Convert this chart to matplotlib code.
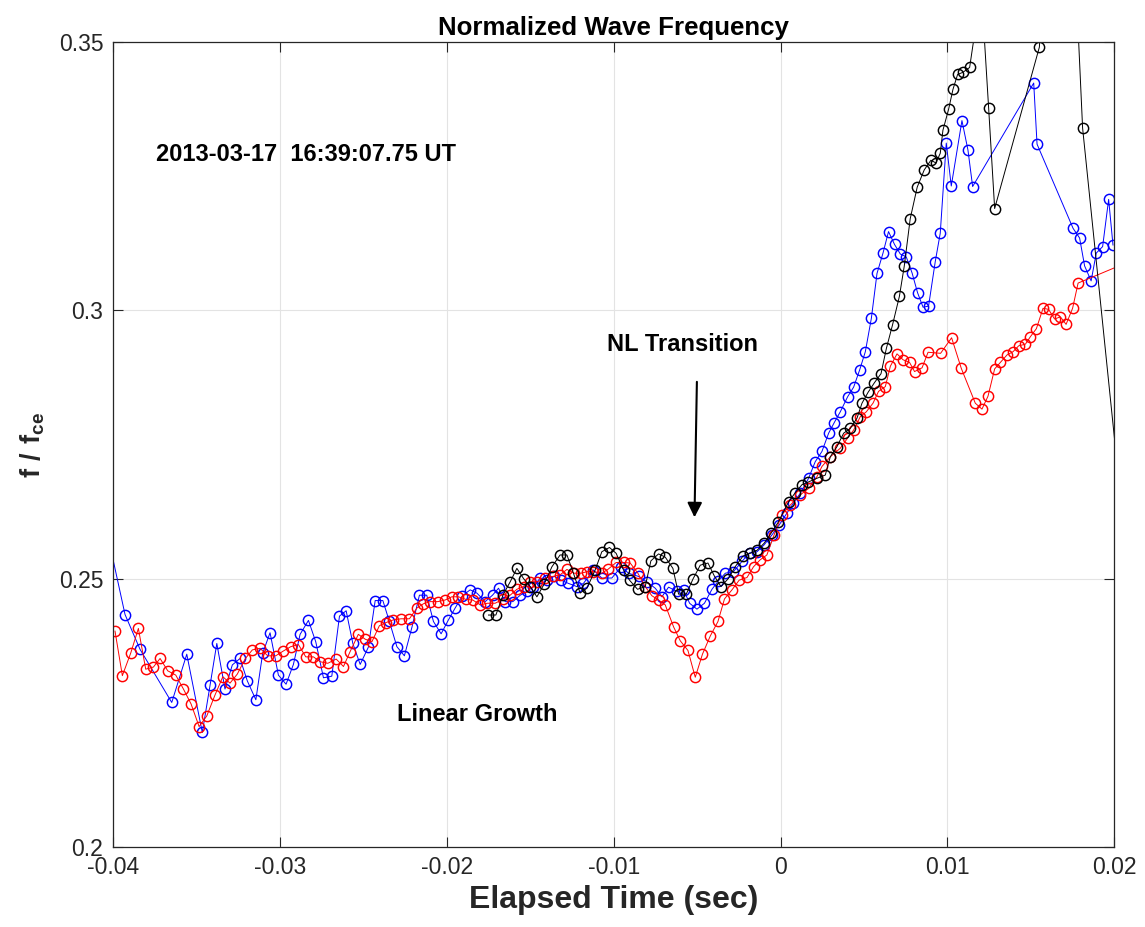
import matplotlib
matplotlib.use("Agg")

import numpy as np
import matplotlib.pyplot as plt

plt.rcParams["font.family"] = ["Liberation Sans", "DejaVu Sans"]
plt.rcParams["mathtext.fontset"] = "custom"
plt.rcParams["mathtext.rm"] = "Liberation Sans"
plt.rcParams["mathtext.bf"] = "Liberation Sans:bold"

# elapsed time in ms, normalized frequency f/fce
red_t = [-39.88, -39.44, -38.94, -38.48, -38.04, -37.58, -37.18, -36.72, -36.24, -35.78,
         -35.32, -34.84, -34.38, -33.90, -33.42, -32.99, -32.55, -32.07, -31.65, -31.19,
         -30.73, -30.25, -29.79, -29.35, -28.89, -28.45, -27.99, -27.59, -27.13, -26.63,
         -26.19, -25.79, -25.30, -24.89, -24.49, -24.04, -23.64, -23.20, -22.74, -22.24,
         -21.79, -21.40, -21.00, -20.54, -20.10, -19.70, -19.30, -18.84, -18.44, -18.00,
         -17.56, -17.10, -16.66, -16.20, -15.80, -15.40, -15.00, -14.57, -14.10, -13.64,
         -13.21, -12.80, -12.37, -11.96, -11.57, -11.21, -10.71, -10.35, -9.85, -9.41,
         -9.01, -8.55, -8.11, -7.71, -7.31, -6.91, -6.41, -6.01, -5.55, -5.11,
         -4.68, -4.21, -3.75, -3.36, -2.91, -2.48, -2.01, -1.62, -1.22, -0.82,
         -0.38, 0.08, 0.58, 1.18, 1.68, 2.18, 2.48, 2.98, 3.58, 4.02,
         4.38, 4.78, 5.14, 5.54, 5.87, 6.28, 6.58, 6.98, 7.34, 7.73,
         8.03, 8.48, 8.84, 9.59, 10.25, 10.83, 11.67, 12.07, 12.43, 12.83,
         13.17, 13.57, 13.93, 14.27, 14.67, 14.97, 15.33, 15.73, 16.06, 16.42,
         16.77, 17.11, 17.50, 17.83, 21.20]
red_f = [0.2402, 0.2319, 0.2361, 0.2407, 0.2331, 0.2335, 0.2351, 0.2328, 0.2320, 0.2294,
         0.2266, 0.2224, 0.2244, 0.2282, 0.2317, 0.2305, 0.2322, 0.2351, 0.2367, 0.2370,
         0.2356, 0.2356, 0.2365, 0.2373, 0.2377, 0.2354, 0.2354, 0.2345, 0.2342, 0.2350,
         0.2336, 0.2364, 0.2396, 0.2387, 0.2382, 0.2412, 0.2418, 0.2423, 0.2425, 0.2425,
         0.2445, 0.2453, 0.2457, 0.2457, 0.2460, 0.2466, 0.2466, 0.2461, 0.2460, 0.2451,
         0.2454, 0.2454, 0.2461, 0.2469, 0.2480, 0.2485, 0.2494, 0.2494, 0.2501, 0.2504,
         0.2507, 0.2517, 0.2510, 0.2510, 0.2513, 0.2513, 0.2510, 0.2517, 0.2530, 0.2530,
         0.2529, 0.2510, 0.2485, 0.2468, 0.2460, 0.2451, 0.2410, 0.2384, 0.2366, 0.2316,
         0.2359, 0.2393, 0.2420, 0.2462, 0.2479, 0.2497, 0.2502, 0.2522, 0.2535, 0.2544,
         0.2582, 0.2619, 0.2637, 0.2656, 0.2668, 0.2690, 0.2709, 0.2727, 0.2743, 0.2762,
         0.2777, 0.2802, 0.2811, 0.2827, 0.2849, 0.2858, 0.2896, 0.2919, 0.2908, 0.2903,
         0.2886, 0.2893, 0.2922, 0.2920, 0.2949, 0.2892, 0.2827, 0.2816, 0.2840, 0.2891,
         0.2903, 0.2917, 0.2923, 0.2934, 0.2937, 0.2951, 0.2966, 0.3004, 0.3002, 0.2984,
         0.2988, 0.2974, 0.3004, 0.3051, 0.3095]

blue_t = [-40.45, -39.28, -38.38, -36.48, -35.58, -34.65, -34.18, -33.78, -33.29, -32.85,
          -32.39, -31.95, -31.44, -31.03, -30.59, -30.09, -29.63, -29.19, -28.79, -28.29,
          -27.85, -27.39, -26.89, -26.43, -26.03, -25.63, -25.19, -24.70, -24.29, -23.83,
          -23.44, -22.99, -22.54, -22.09, -21.64, -21.20, -20.80, -20.34, -19.90, -19.50,
          -19.06, -18.60, -18.20, -17.70, -17.26, -16.90, -16.50, -16.04, -15.60, -15.20,
          -14.81, -14.40, -14.00, -13.56, -13.15, -12.71, -12.20, -11.81, -11.21, -10.71,
          -10.11, -9.55, -9.11, -8.51, -8.01, -7.51, -7.11, -6.71, -6.21, -5.81,
          -5.45, -5.01, -4.56, -4.11, -3.72, -3.31, -2.82, -2.31, -1.86, -1.41,
          -0.98, -0.50, -0.08, 0.38, 0.76, 1.18, 1.68, 2.08, 2.48, 2.88,
          3.22, 3.58, 4.02, 4.38, 4.74, 5.08, 5.44, 5.78, 6.14, 6.47,
          6.83, 7.18, 7.53, 7.88, 8.21, 8.54, 8.87, 9.27, 9.57, 9.93,
          10.23, 10.87, 11.23, 11.51, 15.17, 15.37, 17.53, 17.92, 18.22, 18.61,
          18.92, 19.30, 19.66, 19.92]
blue_f = [0.2600, 0.2433, 0.2368, 0.2269, 0.2359, 0.2213, 0.2302, 0.2379, 0.2294, 0.2339,
          0.2351, 0.2309, 0.2274, 0.2361, 0.2399, 0.2320, 0.2303, 0.2340, 0.2396, 0.2422,
          0.2382, 0.2315, 0.2318, 0.2430, 0.2440, 0.2379, 0.2340, 0.2372, 0.2459, 0.2459,
          0.2420, 0.2373, 0.2356, 0.2409, 0.2469, 0.2469, 0.2420, 0.2397, 0.2423, 0.2445,
          0.2468, 0.2479, 0.2473, 0.2457, 0.2469, 0.2482, 0.2457, 0.2457, 0.2469, 0.2476,
          0.2485, 0.2501, 0.2497, 0.2504, 0.2497, 0.2491, 0.2485, 0.2491, 0.2516, 0.2501,
          0.2501, 0.2522, 0.2510, 0.2504, 0.2494, 0.2482, 0.2466, 0.2484, 0.2476, 0.2479,
          0.2454, 0.2443, 0.2454, 0.2480, 0.2496, 0.2510, 0.2513, 0.2532, 0.2548, 0.2550,
          0.2563, 0.2582, 0.2600, 0.2622, 0.2640, 0.2659, 0.2687, 0.2718, 0.2737, 0.2771,
          0.2791, 0.2811, 0.2839, 0.2857, 0.2889, 0.2923, 0.2985, 0.3069, 0.3107, 0.3147,
          0.3123, 0.3105, 0.3100, 0.3070, 0.3033, 0.3006, 0.3008, 0.3091, 0.3144, 0.3312,
          0.3232, 0.3354, 0.3299, 0.3231, 0.3424, 0.3310, 0.3153, 0.3135, 0.3083, 0.3055,
          0.3107, 0.3119, 0.3207, 0.3122]

black_t = [-17.50, -17.06, -16.62, -16.20, -15.80, -15.40, -15.00, -14.60, -14.16, -13.70,
           -13.21, -12.80, -12.41, -12.01, -11.60, -11.11, -10.71, -10.25, -9.85, -9.41,
           -9.05, -8.57, -8.11, -7.77, -7.31, -6.91, -6.45, -6.11, -5.65, -5.25,
           -4.81, -4.35, -3.97, -3.57, -3.13, -2.72, -2.25, -1.82, -1.40, -0.98,
           -0.56, -0.14, 0.48, 0.88, 1.28, 1.66, 2.18, 2.68, 2.98, 3.38,
           3.78, 4.18, 4.58, 4.88, 5.24, 5.62, 6.02, 6.34, 6.71, 7.12,
           7.41, 7.77, 8.19, 8.61, 9.01, 9.31, 9.57, 9.73, 10.07, 10.33,
           10.61, 10.93, 11.33, 12.03, 12.47, 12.83, 15.51, 15.93, 16.88, 17.60,
           18.10, 20.36]
black_f = [0.2432, 0.2432, 0.2470, 0.2494, 0.2519, 0.2500, 0.2485, 0.2466, 0.2490, 0.2522,
           0.2544, 0.2544, 0.2510, 0.2473, 0.2482, 0.2516, 0.2550, 0.2558, 0.2547, 0.2516,
           0.2497, 0.2480, 0.2485, 0.2533, 0.2546, 0.2540, 0.2519, 0.2471, 0.2471, 0.2499,
           0.2525, 0.2529, 0.2505, 0.2485, 0.2500, 0.2522, 0.2542, 0.2547, 0.2553, 0.2566,
           0.2585, 0.2605, 0.2643, 0.2660, 0.2675, 0.2680, 0.2687, 0.2693, 0.2727, 0.2746,
           0.2771, 0.2780, 0.2799, 0.2827, 0.2847, 0.2865, 0.2882, 0.2929, 0.2973, 0.3026,
           0.3082, 0.3171, 0.3230, 0.3262, 0.3280, 0.3275, 0.3293, 0.3336, 0.3375, 0.3412,
           0.3440, 0.3444, 0.3453, 0.3600, 0.3377, 0.3190, 0.3491, 0.3720, 0.3900, 0.3680,
           0.3340, 0.2655]

x_ticks = [-0.04, -0.03, -0.02, -0.01, 0, 0.01, 0.02]
x_ticklabels = ["-0.04", "-0.03", "-0.02", "-0.01", "0", "0.01", "0.02"]
y_ticks = [0.2, 0.25, 0.3, 0.35]
y_ticklabels = ["0.2", "0.25", "0.3", "0.35"]

fig = plt.figure(figsize=(11.45, 9.27), dpi=100)
ax = fig.add_axes([0.0987, 0.0866, 0.8745, 0.8678])

style = dict(marker="o", markerfacecolor="none", markersize=7.4,
             markeredgewidth=1.05, linewidth=0.7)
ax.plot(np.array(blue_t) / 1000, blue_f, color="#0000ff", **style)
ax.plot(np.array(red_t) / 1000, red_f, color="#ff0000", **style)
ax.plot(np.array(black_t) / 1000, black_f, color="black", **style)

ax.set_xlim(-0.04, 0.02)
ax.set_ylim(0.2, 0.35)
ax.set_xticks(x_ticks)
ax.set_xticklabels(x_ticklabels)
ax.set_yticks(y_ticks)
ax.set_yticklabels(y_ticklabels)
ax.grid(True, color="#e3e3e3", linewidth=0.8)
ax.set_axisbelow(True)
ax.tick_params(direction="in", length=7, width=0.8, top=True, right=True,
               labelsize=16.5, colors="#262626", pad=7)
for sp in ax.spines.values():
    sp.set_color("#262626")
    sp.set_linewidth(0.9)

fig.text(0.5358, 1 - 28 / 927, "Normalized Wave Frequency", ha="center", va="center",
         fontsize=18.6, fontweight="bold")
fig.text(0.5358, 1 - 900 / 927, "Elapsed Time (sec)", ha="center", va="center",
         fontsize=23, fontweight="bold", color="#262626")
fig.text(33 / 1145, 1 - 445 / 927, r"$\mathbf{f\ /\ f_{ce}}$", ha="center", va="center",
         rotation=90, fontsize=19.5, color="#262626")

ax.text(-0.03742, 0.3290, "2013-03-17  16:39:07.75 UT", ha="left", va="center",
        fontsize=17, fontweight="bold")
ax.text(-0.0059, 0.2936, "NL Transition", ha="center", va="center",
        fontsize=17, fontweight="bold")
ax.text(-0.0182, 0.2246, "Linear Growth", ha="center", va="center",
        fontsize=17, fontweight="bold")
ax.annotate("", xy=(-0.00516, 0.2609), xytext=(-0.00501, 0.2872),
            arrowprops=dict(arrowstyle="-|>", color="black", linewidth=1.5,
                            mutation_scale=22))

fig.savefig("out.png", dpi=100)
